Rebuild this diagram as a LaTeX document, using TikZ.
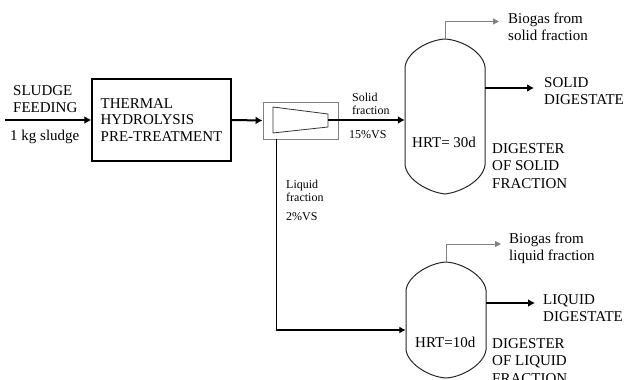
\documentclass[tikz,border=0pt]{standalone}
\usepackage{fontspec}
\setmainfont{Liberation Serif}
\usetikzlibrary{arrows.meta,calc}
\begin{document}
\begin{tikzpicture}[x=1pt,y=-1pt,
  big/.style={font=\fontsize{15}{17}\selectfont, inner sep=0, align=left, anchor=north west},
  small/.style={font=\fontsize{12}{13}\selectfont, inner sep=0, align=left, anchor=north west},
  main/.style={line width=2pt, -{Latex[length=7pt,width=8pt]}},
  thin/.style={line width=1.5pt, -{Latex[length=6.5pt,width=7pt]}},
  gas/.style={draw=gray, line width=1pt, -{Triangle[length=6pt,width=6pt]}, gray},
  vessel/.style={draw=black!85, line width=1pt}]
\useasboundingbox (0,0) rectangle (627,380);

% thermal hydrolysis box
\node[draw, line width=1.5pt, minimum width=139pt, minimum height=82pt, inner sep=0,
      font=\fontsize{15}{16.5}\selectfont, align=left] (thp) at (161.5,120)
      {THERMAL\\HYDROLYSIS\\PRE-TREATMENT};

% separator
\node[draw=gray, line width=0.9pt, minimum width=75pt, minimum height=37pt, inner sep=0] (sep) at (300.5,120.5) {};
\draw[line width=0.8pt, draw=black!80] (273,107) -- (328,114) -- (328,127) -- (273,133) -- cycle;
\coordinate (sepout) at (328,120);
\coordinate (liqstart) at ($(sep.south west)+(14,0)$);

% digesters (named regions + outlines)
\node[minimum width=80pt, minimum height=155pt, inner sep=0] (dig1) at (445,116.5) {};
\draw[vessel] (405,165) -- (405,67) .. controls (407,52) and (428,40) .. (445,39)
  .. controls (462,40) and (483,52) .. (485,67) -- (485,165)
  .. controls (483,180) and (462,192) .. (445,194)
  .. controls (428,192) and (407,180) .. (405,165);
\node[minimum width=80pt, minimum height=116pt, inner sep=0] (dig2) at (446,320) {};
\draw[vessel] (406,350) -- (406,290) .. controls (408,276) and (429,263) .. (446,262)
  .. controls (463,263) and (484,276) .. (486,290) -- (486,350)
  .. controls (484,364) and (463,377) .. (446,378)
  .. controls (429,377) and (408,364) .. (406,350);

% free ends
\coordinate (feedin) at (5,120);
\coordinate (sdig) at (534,88);
\coordinate (ldig) at (535,303);
\coordinate (gas1) at (499,21.5);
\coordinate (gas2) at (501,244);

% connectors
\draw[main] (feedin) -- (thp.west);
\draw[main] (thp.east) -- (sep.west);
\draw[main] (sepout) -- (sepout -| dig1.west);
\draw[thin] (liqstart) |- ($(dig2.west)+(0,10)$);
\draw[main] (sdig -| dig1.east) -- (sdig);
\draw[main] (ldig -| dig2.east) -- (ldig);
\draw[gas] (dig1.north) |- (gas1);
\draw[gas] (dig2.north) |- (gas2);

% labels
\node[big] (lfeed) at (13,85) {SLUDGE\\FEEDING};
\node[big] (lkg) at (10,130) {1 kg sludge};
\node[small] (lsolid) at (352,92.5) {Solid\\fraction};
\node[small] (lvs15) at (349,130.5) {15\%VS};
\node[small] (lliq) at (286,180) {Liquid\\fraction};
\node[small] (lvs2) at (286,212) {2\%VS};
\node[big] (lgas1) at (508,13) {Biogas from\\solid fraction};
\node[big] (lsd) at (544,77) {SOLID\\DIGESTATE};
\node[big] (lhrt1) at (412,137) {HRT= 30d};
\node[big, font=\fontsize{15}{17.5}\selectfont] (ld1) at (492,143) {DIGESTER\\OF SOLID\\FRACTION};
\node[big] (lgas2) at (509,233) {Biogas from\\liquid fraction};
\node[big] (lld) at (543,294) {LIQUID\\DIGESTATE};
\node[big] (lhrt2) at (415,337) {HRT=10d};
\node[big, font=\fontsize{15}{17.5}\selectfont] (ld2) at (492,338) {DIGESTER\\OF LIQUID\\FRACTION};
\end{tikzpicture}
\end{document}
